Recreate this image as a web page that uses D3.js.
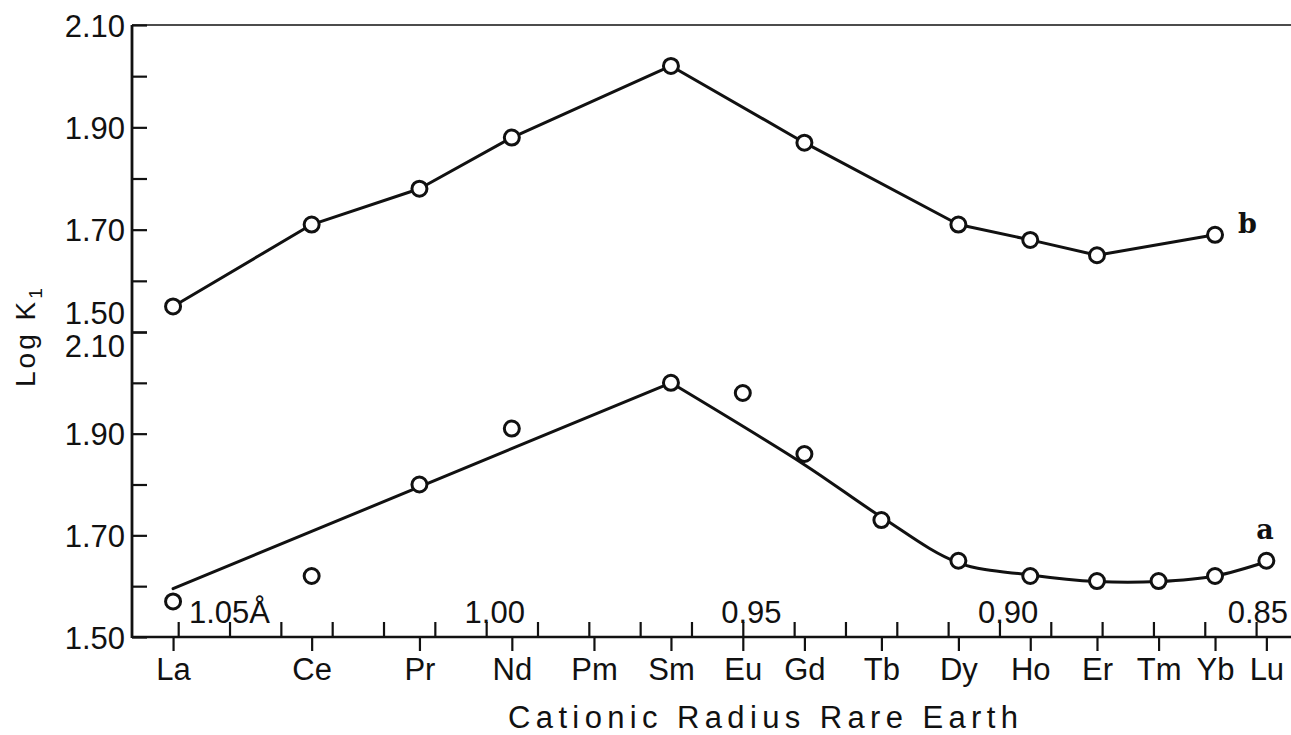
<!DOCTYPE html>
<html>
<head>
<meta charset="utf-8">
<script src="https://cdn.jsdelivr.net/npm/d3@7"></script>
<style>
  html, body { margin: 0; padding: 0; background: #fff; }
  svg { display: block; }
  text { font-family: "Liberation Sans", "DejaVu Sans", sans-serif; fill: #111; }
  text.curve-name { font-family: "DejaVu Serif", "Liberation Serif", serif; font-weight: bold; }
</style>
</head>
<body>
<svg id="chart" width="1291" height="735"></svg>
<script>
// Rare-earth elements and their cationic radii (Å)
const elements = ["La","Ce","Pr","Nd","Pm","Sm","Eu","Gd","Tb","Dy","Ho","Er","Tm","Yb","Lu"];
const radii    = [1.061,1.034,1.013,0.995,0.979,0.964,0.950,0.938,0.923,0.908,0.894,0.881,0.869,0.858,0.848];

// log K1, upper curve (b)
const seriesB = [1.55,1.71,1.78,1.88,null,2.02,null,1.87,null,1.71,1.68,1.65,null,1.69,null];
// log K1, lower curve (a)
const seriesA = [1.57,1.62,1.80,1.91,null,2.00,1.98,1.86,1.73,1.65,1.62,1.61,1.61,1.62,1.65];
// smoothed trend drawn through curve (a)
const trendA  = [1.595,null,null,null,null,2.00,null,1.839,1.736,1.646,1.622,1.609,1.609,1.62,1.648];

const yTickValues = [2.10,2.00,1.90,1.80,1.70,1.60,1.50];
const yTickLabels = ["2.10","","1.90","","1.70","","1.50"];

const radiusTicks = [1.06,1.05,1.04,1.03,1.02,1.01,1.00,0.99,0.98,0.97,0.96,0.95,0.94,0.93,0.92,0.91,0.90,0.89,0.88,0.87,0.86,0.85];
const radiusLabelValues = [1.05,1.00,0.95,0.90,0.85];
const radiusLabels = ["1.05Å","1.00","0.95","0.90","0.85"];

const xTitle = "Cationic Radius Rare Earth";
const yTitle = "Log K";
const yTitleSub = "1";
const curveNames = ["b","a"];

const svg = d3.select("#chart");
const W = 1291;
const plotLeft = 132, plotTop = 25, plotMid = 332, plotBottom = 637;
const ink = "#111";
const fs = 31;

// radius runs right-to-left (large ions at the left)
const x = d3.scaleLinear().domain([1.069, 0.8432]).range([plotLeft, W]);
const yUp = d3.scaleLinear().domain([1.50, 2.10]).range([plotMid, plotTop]);
const yLo = d3.scaleLinear().domain([1.50, 2.10]).range([plotBottom, plotMid]);

// frame lines
svg.append("line").attr("x1", plotLeft).attr("x2", W).attr("y1", plotTop).attr("y2", plotTop)
  .attr("stroke", ink).attr("stroke-width", 1.7);
svg.append("line").attr("x1", plotLeft).attr("x2", W).attr("y1", plotBottom).attr("y2", plotBottom)
  .attr("stroke", ink).attr("stroke-width", 2.3);
svg.append("line").attr("x1", plotLeft).attr("x2", plotLeft).attr("y1", plotTop).attr("y2", plotBottom + 1)
  .attr("stroke", ink).attr("stroke-width", 2.8);

// y axes for the two stacked panels
function drawY(scale, shift) {
  const ax = d3.axisLeft(scale)
    .tickValues(yTickValues)
    .tickFormat((d, i) => yTickLabels[i])
    .tickSizeInner(-15).tickSizeOuter(0).tickPadding(7);
  const g = svg.append("g").attr("transform", `translate(${plotLeft},0)`).call(ax);
  g.attr("font-family", null).attr("font-size", null);
  g.select(".domain").remove();
  g.selectAll(".tick line").attr("stroke", ink).attr("stroke-width", 2.2);
  g.selectAll(".tick text")
    .style("font-size", fs + "px").attr("fill", ink)
    .attr("dy", d => shift(d));
  return g;
}
// the shared 1.50 / 2.10 level carries both labels, one above the other
drawY(yUp, d => (d === 1.50 ? "-0.26em" : "0.36em"));
drawY(yLo, d => (d === 2.10 ? "0.78em" : "0.36em"));

// element axis below the line
const gEl = svg.append("g").attr("transform", `translate(0,${plotBottom})`)
  .call(d3.axisBottom(x).tickValues(radii).tickFormat((d, i) => elements[i])
    .tickSizeInner(14).tickSizeOuter(0).tickPadding(7));
gEl.attr("font-family", null).attr("font-size", null);
gEl.select(".domain").remove();
gEl.selectAll(".tick line").attr("stroke", ink).attr("stroke-width", 2.2);
gEl.selectAll(".tick text").style("font-size", fs + "px").attr("fill", ink);

// radius axis above the line
const gR = svg.append("g").attr("transform", `translate(0,${plotBottom})`)
  .call(d3.axisTop(x).tickValues(radiusTicks).tickFormat(() => "")
    .tickSizeInner(15).tickSizeOuter(0));
gR.select(".domain").remove();
gR.selectAll(".tick line").attr("stroke", ink).attr("stroke-width", 2.2);

// radius labels: decimal point sits over its tick, kept inside the page
radiusLabelValues.forEach((v, i) => {
  const t = svg.append("text")
    .attr("y", plotBottom - 14)
    .style("font-size", fs + "px")
    .text(radiusLabels[i]);
  const node = t.node();
  if (radiusLabels[i].includes("Å")) {
    t.attr("text-anchor", "middle").attr("x", x(v));
  } else {
    const k = radiusLabels[i].indexOf(".");
    const before = node.getSubStringLength(0, k);
    const dot = node.getSubStringLength(k, 1);
    const width = node.getComputedTextLength();
    const x0 = Math.min(x(v) - before - dot / 2, W - 3 - width);
    t.attr("x", x0);
  }
});

// axis titles
svg.append("text")
  .attr("x", 508).attr("y", 728)
  .style("font-size", fs + "px")
  .attr("textLength", 510).attr("lengthAdjust", "spacing")
  .text(xTitle);

const yt = svg.append("text")
  .attr("transform", "translate(35,387) rotate(-90)")
  .style("font-size", "28px")
  .attr("letter-spacing", 3);
yt.append("tspan").text(yTitle);
yt.append("tspan").style("font-size", "19px").attr("dy", 7).text(yTitleSub);

// series
function pts(vals) {
  return vals.map((v, i) => ({ r: radii[i], v })).filter(d => d.v != null);
}
const lineUp = d3.line().x(d => x(d.r)).y(d => yUp(d.v));
const linesG = svg.append("g").attr("fill", "none").attr("stroke", ink)
  .attr("stroke-width", 3).attr("stroke-linejoin", "round").attr("stroke-linecap", "round");

linesG.append("path").attr("d", lineUp(pts(seriesB)));

const trend = pts(trendA);
const peak = trend.findIndex(d => d.r === radii[5]);
const lineLoStraight = d3.line().x(d => x(d.r)).y(d => yLo(d.v));
const lineLoCurve = d3.line().x(d => x(d.r)).y(d => yLo(d.v)).curve(d3.curveCatmullRom.alpha(0.5));
linesG.append("path").attr("d", lineLoStraight(trend.slice(0, peak + 1)));
linesG.append("path").attr("d", lineLoCurve(trend.slice(peak)));

function dots(data, scale) {
  svg.append("g").selectAll("circle").data(data).join("circle")
    .attr("cx", d => x(d.r)).attr("cy", d => scale(d.v)).attr("r", 7.5)
    .attr("fill", "#fff").attr("stroke", ink).attr("stroke-width", 3);
}
dots(pts(seriesB), yUp);
dots(pts(seriesA), yLo);

// curve names next to their last points
const lastB = pts(seriesB).slice(-1)[0];
const lastA = pts(seriesA).slice(-1)[0];
svg.append("text").attr("class", "curve-name")
  .attr("x", x(lastB.r) + 23).attr("y", yUp(lastB.v) - 2)
  .style("font-size", "27px")
  .text(curveNames[0]);
svg.append("text").attr("class", "curve-name")
  .attr("x", x(lastA.r) - 10).attr("y", yLo(lastA.v) - 22)
  .style("font-size", "27px")
  .text(curveNames[1]);
</script>
</body>
</html>
